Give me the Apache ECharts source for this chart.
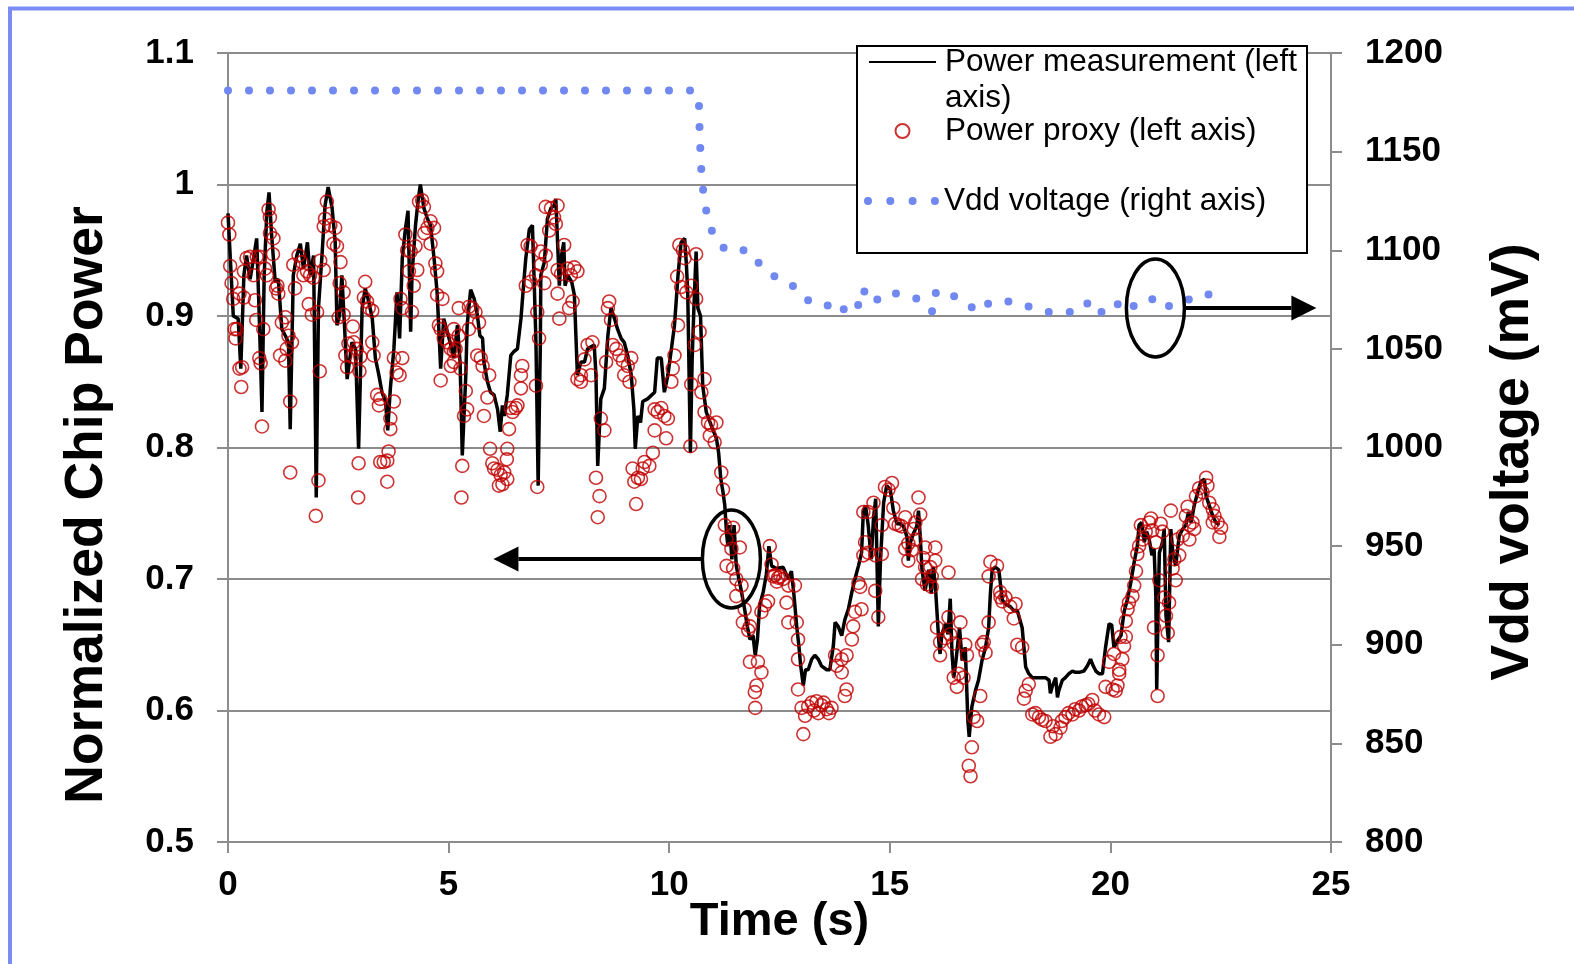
<!DOCTYPE html>
<html>
<head>
<meta charset="utf-8">
<title>Power measurement vs proxy</title>
<script src="https://cdn.jsdelivr.net/npm/echarts@6/dist/echarts.min.js"></script>
<style>
  html, body { margin: 0; padding: 0; background: #fff; }
  #chart { width: 1574px; height: 964px; }
</style>
</head>
<body>
<div id="chart"></div>
<script>
// measured chip power, [time s, normalized power]
const measured = [
  [0.00,0.978],[0.12,0.900],[0.23,0.898],[0.29,0.860],[0.36,0.931],[0.42,0.946],[0.50,0.928],[0.58,0.944],
  [0.65,0.959],[0.71,0.898],[0.77,0.827],[0.82,0.931],[0.88,0.979],[0.93,0.994],[0.99,0.961],[1.07,0.926],
  [1.14,0.928],[1.22,0.890],[1.30,0.885],[1.37,0.880],[1.41,0.814],[1.48,0.931],[1.56,0.946],[1.64,0.955],
  [1.71,0.936],[1.80,0.956],[1.86,0.931],[1.94,0.946],[2.00,0.762],[2.05,0.906],[2.13,0.946],[2.20,0.984],
  [2.27,0.998],[2.36,0.982],[2.43,0.956],[2.47,0.893],[2.53,0.901],[2.58,0.931],[2.64,0.893],[2.70,0.852],
  [2.81,0.880],[2.89,0.875],[2.96,0.799],[3.04,0.906],[3.11,0.921],[3.19,0.911],[3.27,0.898],[3.34,0.868],
  [3.42,0.855],[3.49,0.842],[3.57,0.835],[3.62,0.813],[3.68,0.845],[3.76,0.875],[3.83,0.918],[3.89,0.883],
  [3.95,0.944],[4.02,0.966],[4.08,0.980],[4.14,0.888],[4.17,0.931],[4.25,0.969],[4.31,0.988],[4.36,1.000],
  [4.44,0.982],[4.52,0.974],[4.59,0.969],[4.67,0.944],[4.74,0.918],[4.82,0.860],[4.89,0.898],[4.97,0.888],
  [5.05,0.878],[5.12,0.868],[5.20,0.893],[5.26,0.865],[5.31,0.794],[5.39,0.855],[5.42,0.893],[5.50,0.920],
  [5.58,0.913],[5.65,0.901],[5.71,0.885],[5.77,0.883],[5.80,0.865],[5.88,0.850],[5.95,0.842],[6.03,0.840],
  [6.11,0.829],[6.17,0.812],[6.22,0.832],[6.26,0.824],[6.33,0.840],[6.41,0.870],[6.48,0.873],[6.56,0.875],
  [6.64,0.898],[6.71,0.928],[6.75,0.944],[6.83,0.966],[6.90,0.969],[6.94,0.926],[6.98,0.880],[7.03,0.771],
  [7.08,0.880],[7.09,0.931],[7.17,0.941],[7.24,0.974],[7.32,0.982],[7.39,0.984],[7.43,0.989],[7.51,0.923],
  [7.55,0.944],[7.61,0.956],[7.64,0.923],[7.70,0.931],[7.79,0.926],[7.85,0.916],[7.92,0.855],[8.00,0.865],
  [8.08,0.865],[8.15,0.875],[8.30,0.878],[8.34,0.855],[8.38,0.786],[8.45,0.837],[8.53,0.845],[8.61,0.885],
  [8.68,0.906],[8.76,0.898],[8.83,0.890],[8.91,0.883],[8.98,0.880],[9.06,0.870],[9.14,0.855],[9.20,0.829],
  [9.23,0.799],[9.29,0.824],[9.35,0.819],[9.40,0.835],[9.51,0.837],[9.67,0.842],[9.73,0.868],[9.82,0.868],
  [9.89,0.842],[9.97,0.855],[10.05,0.875],[10.12,0.893],[10.20,0.931],[10.27,0.956],[10.35,0.959],[10.39,0.939],
  [10.42,0.918],[10.48,0.796],[10.52,0.867],[10.56,0.906],[10.61,0.949],[10.65,0.906],[10.71,0.900],[10.76,0.847],
  [10.84,0.827],[10.95,0.817],[11.07,0.807],[11.12,0.796],[11.17,0.776],[11.22,0.766],[11.26,0.756],[11.30,0.735],
  [11.33,0.725],[11.37,0.741],[11.42,0.715],[11.47,0.741],[11.52,0.710],[11.58,0.700],[11.64,0.690],[11.71,0.677],
  [11.77,0.664],[11.83,0.654],[11.90,0.657],[11.95,0.642],[12.00,0.654],[12.05,0.680],[12.13,0.690],[12.20,0.703],
  [12.26,0.725],[12.32,0.710],[12.43,0.708],[12.58,0.709],[12.70,0.700],[12.77,0.706],[12.83,0.687],[12.89,0.664],
  [12.94,0.649],[12.98,0.634],[13.04,0.619],[13.09,0.631],[13.15,0.631],[13.23,0.639],[13.30,0.642],[13.38,0.639],
  [13.45,0.634],[13.57,0.631],[13.64,0.631],[13.72,0.649],[13.76,0.667],[13.83,0.664],[13.91,0.657],[13.98,0.669],
  [14.06,0.677],[14.14,0.690],[14.21,0.700],[14.29,0.710],[14.36,0.720],[14.40,0.751],[14.45,0.756],[14.51,0.741],
  [14.58,0.715],[14.63,0.746],[14.68,0.761],[14.74,0.664],[14.79,0.715],[14.86,0.758],[14.93,0.771],[15.01,0.768],
  [15.08,0.752],[15.16,0.742],[15.23,0.742],[15.31,0.740],[15.39,0.732],[15.42,0.714],[15.46,0.727],[15.54,0.735],
  [15.61,0.740],[15.65,0.752],[15.69,0.732],[15.73,0.707],[15.80,0.691],[15.88,0.707],[15.94,0.689],[15.99,0.709],
  [16.04,0.691],[16.11,0.653],[16.14,0.643],[16.18,0.658],[16.26,0.666],[16.32,0.658],[16.37,0.685],[16.41,0.643],
  [16.45,0.625],[16.50,0.638],[16.58,0.663],[16.64,0.638],[16.71,0.648],[16.77,0.592],[16.80,0.580],[16.86,0.603],
  [16.94,0.615],[17.01,0.623],[17.09,0.638],[17.17,0.648],[17.24,0.663],[17.28,0.689],[17.32,0.707],[17.39,0.709],
  [17.47,0.707],[17.55,0.684],[17.62,0.681],[17.73,0.679],[17.81,0.676],[17.89,0.676],[18.00,0.663],[18.04,0.648],
  [18.08,0.633],[18.15,0.628],[18.23,0.625],[18.38,0.625],[18.53,0.625],[18.61,0.623],[18.64,0.613],[18.68,0.618],
  [18.76,0.625],[18.80,0.610],[18.83,0.615],[18.91,0.623],[18.98,0.625],[19.06,0.628],[19.14,0.630],[19.21,0.629],
  [19.29,0.629],[19.40,0.630],[19.48,0.634],[19.55,0.639],[19.61,0.634],[19.67,0.630],[19.74,0.628],[19.82,0.628],
  [19.89,0.648],[19.97,0.666],[20.03,0.665],[20.08,0.648],[20.16,0.653],[20.24,0.657],[20.31,0.675],[20.39,0.685],
  [20.46,0.697],[20.54,0.713],[20.61,0.725],[20.65,0.741],[20.71,0.743],[20.77,0.728],[20.82,0.736],[20.88,0.730],
  [20.94,0.718],[20.99,0.723],[21.03,0.687],[21.05,0.616],[21.08,0.675],[21.11,0.720],[21.18,0.728],[21.22,0.738],
  [21.26,0.672],[21.32,0.652],[21.37,0.738],[21.42,0.718],[21.48,0.710],[21.56,0.733],[21.64,0.738],[21.71,0.741],
  [21.77,0.751],[21.83,0.743],[21.90,0.756],[21.98,0.766],[22.05,0.774],[22.13,0.776],[22.17,0.763],[22.24,0.756],
  [22.32,0.748],[22.39,0.743],[22.47,0.741]
];

// power proxy estimates, [time s, normalized power]
const proxy = [
  [0.00,0.971],[0.03,0.962],[0.05,0.938],[0.08,0.925],[0.12,0.913],[0.15,0.890],[0.20,0.890],[0.17,0.883],
  [0.26,0.860],[0.32,0.861],[0.30,0.846],[0.26,0.917],[0.36,0.914],[0.36,0.934],[0.42,0.944],[0.50,0.945],
  [0.58,0.931],[0.61,0.912],[0.65,0.945],[0.73,0.945],[0.64,0.897],[0.71,0.868],[0.74,0.864],[0.80,0.890],
  [0.77,0.816],[0.84,0.936],[0.88,0.931],[0.92,0.981],[0.95,0.975],[0.95,0.963],[1.03,0.959],[1.02,0.947],
  [1.09,0.921],[1.12,0.923],[1.14,0.917],[1.22,0.895],[1.30,0.899],[1.18,0.870],[1.30,0.866],[1.37,0.885],
  [1.45,0.880],[1.33,0.875],[1.41,0.835],[1.41,0.781],[1.48,0.939],[1.52,0.921],[1.60,0.946],[1.67,0.941],
  [1.71,0.931],[1.79,0.934],[1.86,0.931],[1.94,0.929],[1.83,0.909],[1.90,0.901],[2.02,0.903],[2.09,0.942],
  [2.17,0.935],[2.08,0.858],[2.05,0.775],[1.99,0.748],[2.24,0.987],[2.20,0.974],[2.17,0.968],[2.32,0.969],
  [2.43,0.967],[2.39,0.955],[2.47,0.953],[2.55,0.941],[2.53,0.925],[2.62,0.918],[2.51,0.899],[2.62,0.901],
  [2.83,0.892],[2.73,0.879],[2.66,0.870],[2.70,0.861],[2.81,0.869],[2.85,0.880],[2.92,0.875],[3.00,0.869],
  [2.98,0.858],[3.11,0.926],[3.08,0.914],[3.15,0.911],[3.19,0.906],[3.27,0.904],[2.96,0.788],[2.95,0.762],
  [3.27,0.880],[3.30,0.870],[3.38,0.840],[3.45,0.837],[3.42,0.832],[3.68,0.822],[3.76,0.835],[3.68,0.814],
  [3.76,0.868],[3.82,0.857],[3.89,0.855],[3.95,0.868],[3.45,0.789],[3.53,0.789],[3.61,0.790],[3.64,0.797],
  [3.61,0.774],[3.91,0.913],[3.95,0.906],[4.02,0.962],[4.06,0.950],[4.10,0.934],[4.17,0.903],[4.21,0.923],
  [4.29,0.935],[4.14,0.949],[4.25,0.953],[4.33,0.987],[4.40,0.988],[4.44,0.983],[4.45,0.963],[4.52,0.967],
  [4.59,0.972],[4.67,0.967],[4.59,0.955],[4.70,0.940],[4.74,0.934],[4.74,0.916],[4.86,0.913],[4.78,0.893],
  [4.82,0.890],[4.89,0.883],[4.97,0.880],[5.05,0.875],[5.12,0.873],[5.12,0.865],[5.05,0.862],[4.82,0.851],
  [5.12,0.890],[5.16,0.875],[5.23,0.885],[5.27,0.860],[5.23,0.906],[5.46,0.907],[5.54,0.906],[5.61,0.903],
  [5.46,0.890],[5.69,0.895],[5.65,0.870],[5.73,0.868],[5.77,0.862],[5.92,0.855],[5.39,0.843],[5.42,0.829],
  [5.35,0.824],[5.31,0.786],[5.29,0.762],[5.88,0.838],[5.80,0.824],[5.94,0.799],[5.99,0.788],[6.03,0.784],
  [6.11,0.783],[6.18,0.779],[6.26,0.781],[6.33,0.799],[6.32,0.791],[6.14,0.771],[6.22,0.772],[6.33,0.776],
  [6.41,0.830],[6.45,0.827],[6.52,0.830],[6.56,0.832],[6.37,0.814],[6.64,0.845],[6.67,0.862],[6.64,0.855],
  [6.98,0.847],[7.05,0.883],[7.01,0.903],[7.01,0.770],[6.79,0.954],[6.86,0.953],[6.75,0.923],[6.86,0.926],
  [6.98,0.931],[7.09,0.949],[7.20,0.946],[7.09,0.939],[7.17,0.925],[7.28,0.965],[7.20,0.983],[7.32,0.982],
  [7.39,0.975],[7.43,0.970],[7.47,0.984],[7.47,0.935],[7.55,0.932],[7.62,0.954],[7.70,0.936],[7.77,0.931],
  [7.85,0.937],[7.92,0.934],[7.51,0.898],[7.73,0.906],[7.81,0.911],[7.47,0.917],[7.92,0.852],[8.00,0.855],
  [8.08,0.867],[8.15,0.878],[8.26,0.880],[8.23,0.855],[8.00,0.850],[8.45,0.822],[8.53,0.813],[8.34,0.777],
  [8.42,0.763],[8.38,0.747],[8.61,0.906],[8.64,0.911],[8.68,0.897],[8.57,0.865],[8.72,0.878],[8.80,0.875],
  [8.87,0.870],[8.95,0.866],[8.98,0.855],[9.06,0.862],[9.14,0.868],[9.10,0.850],[9.17,0.784],[9.21,0.774],
  [9.25,0.757],[9.29,0.777],[9.36,0.776],[9.40,0.784],[9.44,0.789],[9.55,0.786],[9.63,0.796],[9.67,0.829],
  [9.74,0.827],[9.82,0.830],[9.89,0.824],[9.97,0.822],[9.67,0.813],[9.93,0.807],[10.05,0.850],[10.08,0.860],
  [10.12,0.870],[10.20,0.893],[10.18,0.930],[10.23,0.954],[10.31,0.950],[10.35,0.944],[10.61,0.947],[10.27,0.922],
  [10.39,0.918],[10.50,0.923],[10.61,0.913],[10.69,0.888],[10.58,0.878],[10.50,0.848],[10.73,0.842],[10.80,0.852],
  [10.80,0.827],[10.88,0.819],[10.95,0.817],[11.07,0.819],[10.92,0.809],[11.03,0.804],[10.48,0.801],[11.18,0.781],
  [11.22,0.768],[11.26,0.741],[11.30,0.730],[11.45,0.739],[11.60,0.724],[11.41,0.723],[11.30,0.710],[11.45,0.708],
  [11.52,0.700],[11.64,0.695],[11.52,0.687],[11.71,0.677],[11.67,0.667],[11.83,0.664],[11.79,0.661],[11.83,0.637],
  [12.01,0.637],[12.09,0.629],[11.98,0.619],[11.94,0.614],[11.95,0.602],[12.09,0.675],[12.17,0.680],[12.24,0.683],
  [12.28,0.725],[12.32,0.711],[12.36,0.702],[12.40,0.703],[12.44,0.698],[12.47,0.701],[12.52,0.702],[12.58,0.700],
  [12.70,0.695],[12.85,0.695],[12.66,0.682],[12.70,0.667],[12.89,0.667],[12.92,0.654],[12.92,0.639],[12.92,0.616],
  [13.00,0.602],[13.08,0.596],[13.04,0.582],[13.15,0.603],[13.23,0.606],[13.28,0.600],[13.34,0.607],[13.38,0.598],
  [13.45,0.604],[13.50,0.606],[13.57,0.601],[13.62,0.598],[13.68,0.602],[13.76,0.642],[13.80,0.634],[13.91,0.639],
  [14.02,0.642],[13.91,0.629],[14.02,0.616],[13.98,0.611],[14.14,0.654],[14.17,0.664],[14.21,0.675],[14.29,0.697],
  [14.33,0.694],[14.36,0.677],[14.40,0.718],[14.44,0.728],[14.51,0.720],[14.40,0.751],[14.51,0.751],[14.63,0.758],
  [14.67,0.718],[14.82,0.719],[14.67,0.691],[14.74,0.671],[14.82,0.741],[14.89,0.770],[15.05,0.773],[14.97,0.768],
  [15.08,0.754],[15.12,0.742],[15.20,0.741],[15.27,0.740],[15.35,0.747],[15.54,0.738],[15.58,0.743],[15.65,0.762],
  [15.69,0.749],[15.42,0.727],[15.35,0.723],[15.42,0.714],[15.58,0.730],[15.50,0.722],[15.80,0.724],[16.03,0.724],
  [16.03,0.714],[15.76,0.716],[15.80,0.709],[15.92,0.709],[15.95,0.702],[15.73,0.700],[15.84,0.696],[15.95,0.694],
  [16.33,0.705],[16.07,0.663],[16.14,0.652],[16.14,0.642],[16.26,0.655],[16.33,0.671],[16.37,0.658],[16.60,0.667],
  [16.45,0.651],[16.71,0.650],[16.75,0.642],[16.45,0.625],[16.56,0.628],[16.67,0.625],[16.52,0.618],[17.05,0.611],
  [16.90,0.595],[16.98,0.592],[16.86,0.572],[16.79,0.558],[16.83,0.550],[17.24,0.667],[17.09,0.650],[17.17,0.644],
  [17.13,0.652],[17.28,0.713],[17.43,0.710],[17.24,0.702],[17.50,0.690],[17.51,0.686],[17.55,0.683],[17.62,0.686],
  [17.73,0.679],[17.85,0.681],[17.81,0.670],[17.89,0.650],[18.00,0.648],[18.15,0.620],[18.08,0.615],[18.04,0.609],
  [18.23,0.597],[18.30,0.598],[18.38,0.595],[18.45,0.593],[18.53,0.592],[18.64,0.580],[18.70,0.588],[18.76,0.582],
  [18.87,0.587],[18.90,0.592],[18.98,0.595],[19.05,0.598],[19.14,0.597],[19.20,0.601],[19.29,0.600],[19.35,0.603],
  [19.44,0.604],[19.50,0.605],[19.59,0.608],[19.65,0.600],[19.74,0.597],[19.86,0.595],[19.89,0.618],[19.97,0.637],
  [20.08,0.643],[20.12,0.615],[20.20,0.628],[20.23,0.656],[20.05,0.616],[20.16,0.619],[20.20,0.631],[20.27,0.639],
  [20.31,0.649],[20.35,0.656],[20.35,0.668],[20.39,0.677],[20.42,0.682],[20.50,0.687],[20.54,0.695],[20.58,0.706],
  [20.61,0.719],[20.65,0.725],[20.69,0.741],[20.73,0.730],[20.80,0.736],[20.88,0.743],[20.92,0.746],[20.95,0.737],
  [21.03,0.728],[21.14,0.742],[21.18,0.736],[21.37,0.752],[20.99,0.663],[21.11,0.699],[21.07,0.642],[21.07,0.611],
  [21.22,0.686],[21.33,0.682],[21.26,0.672],[21.30,0.659],[21.48,0.699],[21.41,0.708],[21.45,0.715],[21.56,0.718],
  [21.52,0.730],[21.64,0.733],[21.71,0.748],[21.79,0.741],[21.86,0.743],[21.79,0.730],[21.90,0.738],[21.75,0.755],
  [21.94,0.763],[22.01,0.769],[22.09,0.766],[22.17,0.777],[22.20,0.771],[22.24,0.758],[22.32,0.753],[22.36,0.748],
  [22.43,0.743],[22.51,0.739],[22.47,0.732],[22.32,0.743]
];

// supply voltage, [time s, mV]
const vdd = [
  [0.00,1181],[10.55,1181],[10.67,1178],[10.69,1160],[10.72,1143],[10.79,1125],[10.90,1114],[11.03,1106],
  [11.29,1100],[11.79,1100],[12.05,1093],[12.31,1087.5],[12.66,1084],[12.86,1081],[13.11,1075],[13.45,1071.5],
  [13.73,1072.5],[13.89,1068.5],[14.16,1075],[14.35,1070.7],[14.44,1081],[14.71,1075],[15.02,1079],[15.29,1077],
  [15.71,1075],[15.98,1068.5],[16.05,1079.4],[16.36,1077.8],[16.71,1074],[16.98,1068.7],[17.29,1074],[17.80,1074],
  [18.15,1071.4],[18.55,1068.7],[19.28,1068.7],[19.56,1074.8],[19.80,1068.7],[20.09,1074],[20.38,1068.7],
  [20.68,1074.8],[21.16,1075.5],[21.29,1071.4],[21.68,1074.8],[22.12,1075.8],[22.43,1081.2]
];

const seriesNames = ['Power measurement (left axis)', 'Power proxy (left axis)', 'Vdd voltage (right axis)'];

// callouts: ellipse around a data spot, arrow pointing to the axis it belongs to
const callouts = [
  { at: [11.41, 0.7153], yAxisIndex: 0, side: -1 },
  { at: [21.02, 1070.7], yAxisIndex: 1, side: 1 }
];

const FONT = '"Liberation Sans", Arial, Helvetica, sans-serif';
const GRAY = '#8c8c8c';
const RED = '#c00000';
const VDD_BLUE = '#7088f0';

const chart = echarts.init(document.getElementById('chart'));

const tickLabel = { fontFamily: FONT, fontSize: 35, fontWeight: 'bold', color: '#000' };
const axisLine = { show: true, lineStyle: { color: GRAY, width: 2 } };
const axisTick = { show: true, length: 11, lineStyle: { color: GRAY, width: 2 } };

const legendText = { fontFamily: FONT, fontSize: 31.5, color: '#000', lineHeight: 36 };
const noMarker = { opacity: 0 };

const option = {
  animation: false,
  backgroundColor: '#fff',
  grid: { left: 228, right: 243, top: 53, bottom: 122 },
  xAxis: {
    type: 'value',
    min: 0,
    max: 25,
    interval: 5,
    name: 'Time (s)',
    nameLocation: 'middle',
    nameGap: 57,
    nameMoveOverlap: false,
    nameTextStyle: { fontFamily: FONT, fontSize: 47, fontWeight: 'bold', color: '#000' },
    axisLine: axisLine,
    axisTick: axisTick,
    axisLabel: Object.assign({ margin: 26 }, tickLabel),
    splitLine: { show: false }
  },
  yAxis: [
    {
      type: 'value',
      position: 'left',
      min: 0.5,
      max: 1.1,
      interval: 0.1,
      name: 'Normalized Chip Power',
      nameLocation: 'middle',
      nameRotate: 90,
      nameGap: 114,
      nameTextStyle: { fontFamily: FONT, fontSize: 53.5, fontWeight: 'bold', color: '#000', padding: [0, 115, 0, 0] },
      axisLine: axisLine,
      axisTick: axisTick,
      axisLabel: Object.assign({ margin: 34 }, tickLabel),
      splitLine: { show: true, lineStyle: { color: GRAY, width: 2 } }
    },
    {
      type: 'value',
      position: 'right',
      min: 800,
      max: 1200,
      interval: 50,
      name: 'Vdd voltage (mV)',
      nameLocation: 'middle',
      nameRotate: 90,
      nameGap: 155,
      nameTextStyle: { fontFamily: FONT, fontSize: 53.5, fontWeight: 'bold', color: '#000', padding: [0, 29, 0, 0] },
      axisLine: axisLine,
      axisTick: axisTick,
      axisLabel: Object.assign({ margin: 34, formatter: v => String(v) }, tickLabel),
      splitLine: { show: false }
    }
  ],
  legend: [
    {
      // leading blank line keeps the icon level with the first text line
      data: [seriesNames[0]],
      left: 868, top: 8, padding: 0,
      itemWidth: 67, itemHeight: 14,
      z: 5,
      itemStyle: noMarker,
      formatter: () => '\nPower measurement (left\naxis)',
      textStyle: Object.assign({ padding: [0, 0, 0, 4] }, legendText)
    },
    {
      data: [seriesNames[1]],
      left: 894.5, top: 113, padding: 0,
      itemWidth: 67, itemHeight: 14,
      z: 5,
      textStyle: Object.assign({ padding: [0, 0, 0, 4] }, legendText)
    },
    {
      data: [seriesNames[2]],
      left: 864, top: 183, padding: 0,
      itemWidth: 67, itemHeight: 14,
      z: 5,
      itemStyle: noMarker,
      lineStyle: { color: VDD_BLUE, width: 8, type: [0, 22.3], cap: 'round' },
      textStyle: Object.assign({ padding: [0, 0, 0, 4] }, legendText)
    }
  ],
  series: [
    {
      name: seriesNames[0],
      type: 'line',
      xAxisIndex: 0,
      yAxisIndex: 0,
      data: measured,
      symbol: 'none',
      silent: true,
      z: 2,
      lineStyle: { color: '#000', width: 3.5 },
      itemStyle: { color: '#000' }
    },
    {
      name: seriesNames[1],
      type: 'scatter',
      xAxisIndex: 0,
      yAxisIndex: 0,
      data: proxy,
      symbol: 'circle',
      symbolSize: 13,
      silent: true,
      z: 3,
      itemStyle: { color: 'rgba(0,0,0,0)', borderColor: RED, borderWidth: 1.6 }
    },
    {
      name: seriesNames[2],
      type: 'line',
      xAxisIndex: 0,
      yAxisIndex: 1,
      data: vdd,
      symbol: 'none',
      silent: true,
      z: 2,
      lineStyle: { color: VDD_BLUE, width: 8, type: [0, 21], cap: 'round' },
      itemStyle: { color: VDD_BLUE }
    }
  ]
};

chart.setOption(option);

// frame, legend box and callouts need pixel positions from the axes
function buildGraphics() {
  const els = [
    {
      type: 'rect', z: 0,
      shape: { x: 10, y: 8.5, width: 1620, height: 1000 },
      style: { fill: 'none', stroke: '#7b8df5', lineWidth: 4 }
    },
    {
      type: 'rect', z: 1,
      shape: { x: 857, y: 46, width: 450, height: 207 },
      style: { fill: '#fff', stroke: '#000', lineWidth: 2 }
    }
  ];
  callouts.forEach(c => {
    const p = chart.convertToPixel({ xAxisIndex: 0, yAxisIndex: c.yAxisIndex }, c.at);
    const rx = 29, ry = 49;
    els.push({
      type: 'ellipse', z: 6,
      shape: { cx: p[0], cy: p[1], rx: rx, ry: ry },
      style: { fill: 'none', stroke: '#000', lineWidth: 3.5 }
    });
    const start = p[0] + c.side * rx;
    const shaft = c.side < 0 ? 184 : 107;
    const base = start + c.side * shaft;
    const tip = base + c.side * 25;
    els.push({
      type: 'line', z: 6,
      shape: { x1: start, y1: p[1], x2: base, y2: p[1] },
      style: { stroke: '#000', lineWidth: 4 }
    });
    els.push({
      type: 'polygon', z: 6,
      shape: { points: [[tip, p[1]], [base, p[1] - 12.5], [base, p[1] + 12.5]] },
      style: { fill: '#000' }
    });
  });
  chart.setOption({ graphic: { elements: els } });
}
buildGraphics();
</script>
</body>
</html>
